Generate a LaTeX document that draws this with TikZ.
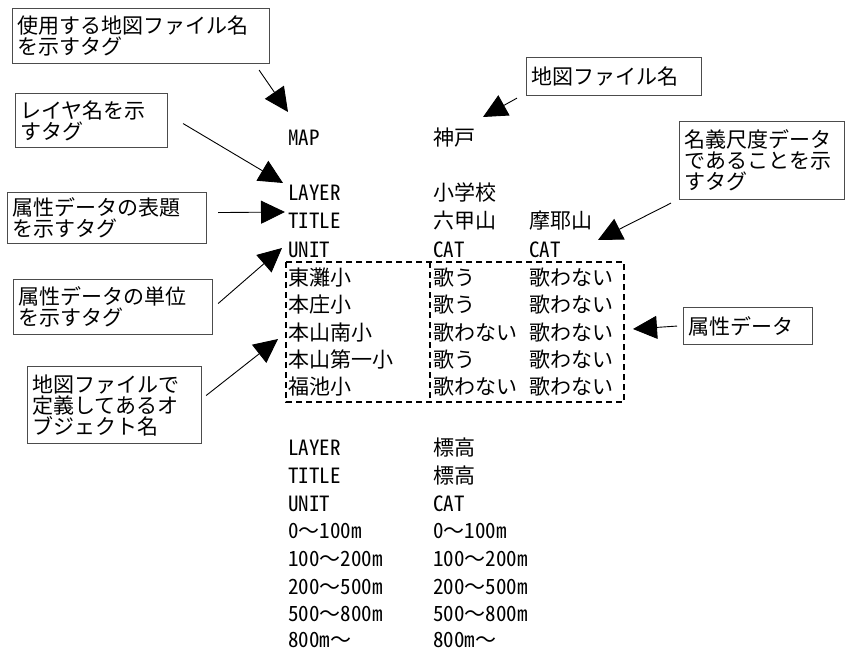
\documentclass[tikz,border=0pt]{standalone}
\usepackage{fontspec}
\setmainfont{Noto Sans CJK JP}
\newfontfamily\tblfont[RawFeature=+hwid]{Noto Sans CJK JP}
\newcommand{\wavedash}{{\rmfamily ～}}
\usetikzlibrary{arrows.meta}
\begin{document}
\begin{tikzpicture}[x=1pt,y=-1pt,
  note/.style={draw=black!70, line width=1.1pt, anchor=north west, inner xsep=5pt, inner ysep=0pt,
    align=left, font=\fontsize{21}{21}\selectfont},
  conn/.style={line width=0.9pt, -{Triangle[length=24pt,width=23pt]}},
  cell/.style={anchor=base west, inner sep=0pt, font=\tblfont\fontsize{21}{21}\selectfont},
  dbox/.style={dash pattern=on 6pt off 4pt, line width=1.8pt}
]
\useasboundingbox (0,0) rectangle (845,650);
\clip (0,0) rectangle (845,650);

% annotation boxes
\node[note, text width=247pt, minimum height=55pt] (b1) at (12,8) {使用する地図ファイル名\\を示すタグ};
\node[note, text width=142pt, minimum height=54pt] (b2) at (15,93) {レイヤ名を示\\すタグ};
\node[note, text width=189pt, minimum height=51pt] (b3) at (7,192) {属性データの表題\\を示すタグ};
\node[note, text width=189pt, minimum height=55pt] (b4) at (13,279) {属性データの単位\\を示すタグ};
\node[note, text width=164pt, minimum height=77pt] (b5) at (27,366) {地図ファイルで\\定義してあるオ\\ブジェクト名};
\node[note, text width=165pt, minimum height=38pt] (b6) at (526,57) {地図ファイル名};
\node[note, text width=155pt, minimum height=78pt] (b7) at (679,121) {名義尺度データ\\であることを示\\すタグ};
\node[note, text width=119pt, minimum height=37pt] (b8) at (683,307) {属性データ};

% arrow tips
\coordinate (t1) at (288,112);
\coordinate (t2) at (283,183);
\coordinate (t3) at (285,212);
\coordinate (t4) at (282,248);
\coordinate (t5) at (278,339);
\coordinate (t6) at (483,117);
\coordinate (t7) at (598,240);
\coordinate (t8) at (633,329);

\draw[conn] ([shift={(-11,6)}]b1.south east) -- (t1);
\draw[conn] ([shift={(15,3)}]b2.east) -- (t2);
\draw[conn] ([shift={(11,-5.5)}]b3.east) -- (t3);
\draw[conn] ([shift={(5,-3.5)}]b4.east) -- (t4);
\draw[conn] ([shift={(4,-9.5)}]b5.east) -- (t5);
\draw[conn] ([shift={(-9,2)}]b6.south west) -- (t6);
\draw[conn] ([shift={(-8,3)}]b7.south west) -- (t7);
\draw[conn] ([shift={(-6,0)}]b8.west) -- (t8);

% upper table
\node[cell] (u1a) at (288,145) {MAP};
\node[cell] (u1b) at (433,145) {神戸};
\node[cell] (u2a) at (288,200) {LAYER};
\node[cell] (u2b) at (433,200) {小学校};
\node[cell] (u3a) at (288,228) {TITLE};
\node[cell] (u3b) at (433,228) {六甲山};
\node[cell] (u3c) at (529,228) {摩耶山};
\node[cell] (u4a) at (288,257) {UNIT};
\node[cell] (u4b) at (433,257) {CAT};
\node[cell] (u4c) at (529,257) {CAT};
\node[cell] (r1a) at (288,285) {東灘小};
\node[cell] (r1b) at (433,285) {歌う};
\node[cell] (r1c) at (529,285) {歌わない};
\node[cell] (r2a) at (288,312) {本庄小};
\node[cell] (r2b) at (433,312) {歌う};
\node[cell] (r2c) at (529,312) {歌わない};
\node[cell] (r3a) at (288,340) {本山南小};
\node[cell] (r3b) at (433,340) {歌わない};
\node[cell] (r3c) at (529,340) {歌わない};
\node[cell] (r4a) at (288,367) {本山第一小};
\node[cell] (r4b) at (433,367) {歌う};
\node[cell] (r4c) at (529,367) {歌わない};
\node[cell] (r5a) at (288,394) {福池小};
\node[cell] (r5b) at (433,394) {歌わない};
\node[cell] (r5c) at (529,394) {歌わない};

% dashed frames
\draw[dbox] (286,262) rectangle (624,402);
\draw[dbox] (430,262) -- (430,402);

% lower table
\node[cell] (l1a) at (288,455) {LAYER};
\node[cell] (l1b) at (433,455) {標高};
\node[cell] (l2a) at (288,483) {TITLE};
\node[cell] (l2b) at (433,483) {標高};
\node[cell] (l3a) at (288,511) {UNIT};
\node[cell] (l3b) at (433,511) {CAT};
\node[cell] (l4a) at (288,538) {0\wavedash 100m};
\node[cell] (l4b) at (433,538) {0\wavedash 100m};
\node[cell] (l5a) at (288,566) {100\wavedash 200m};
\node[cell] (l5b) at (433,566) {100\wavedash 200m};
\node[cell] (l6a) at (288,594) {200\wavedash 500m};
\node[cell] (l6b) at (433,594) {200\wavedash 500m};
\node[cell] (l7a) at (288,621) {500\wavedash 800m};
\node[cell] (l7b) at (433,621) {500\wavedash 800m};
\node[cell] (l8a) at (288,647) {800m\wavedash};
\node[cell] (l8b) at (433,647) {800m\wavedash};
\end{tikzpicture}
\end{document}
